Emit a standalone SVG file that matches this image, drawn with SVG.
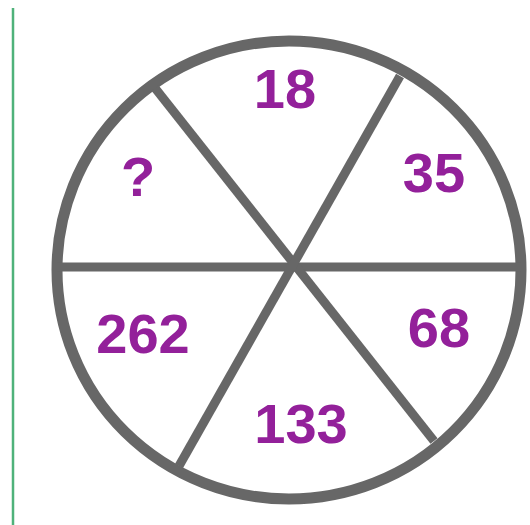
<svg xmlns="http://www.w3.org/2000/svg" width="530" height="525" viewBox="0 0 530 525">
<style>
.rim{fill:none;stroke:#676767;stroke-width:11}
.div{stroke:#676767;stroke-width:9;stroke-linecap:butt}
.num{font-family:"Liberation Sans",Arial,sans-serif;font-weight:bold;font-size:56px;fill:#93209a;text-anchor:middle}
</style>
<rect width="530" height="525" fill="#ffffff"/>
<line x1="13" y1="8" x2="13" y2="525" stroke="#4fb27a" stroke-width="2.5"/>
<g id="wheel">
<ellipse class="rim" cx="289" cy="270" rx="232" ry="229"/>
</g>
<g id="connectors">
<line class="div" x1="57" y1="267" x2="521" y2="267"/>
<line class="div" x1="155" y1="88" x2="434" y2="441"/>
<line class="div" x1="400" y1="76" x2="179" y2="466"/>
</g>
<g id="n18"><text class="num" x="285" y="108">18</text></g>
<g id="n35"><text class="num" x="434" y="192">35</text></g>
<g id="q"><text class="num" x="138" y="196">?</text></g>
<g id="n262"><text class="num" x="143" y="353">262</text></g>
<g id="n68"><text class="num" x="439" y="347">68</text></g>
<g id="n133"><text class="num" x="301" y="443">133</text></g>
</svg>
